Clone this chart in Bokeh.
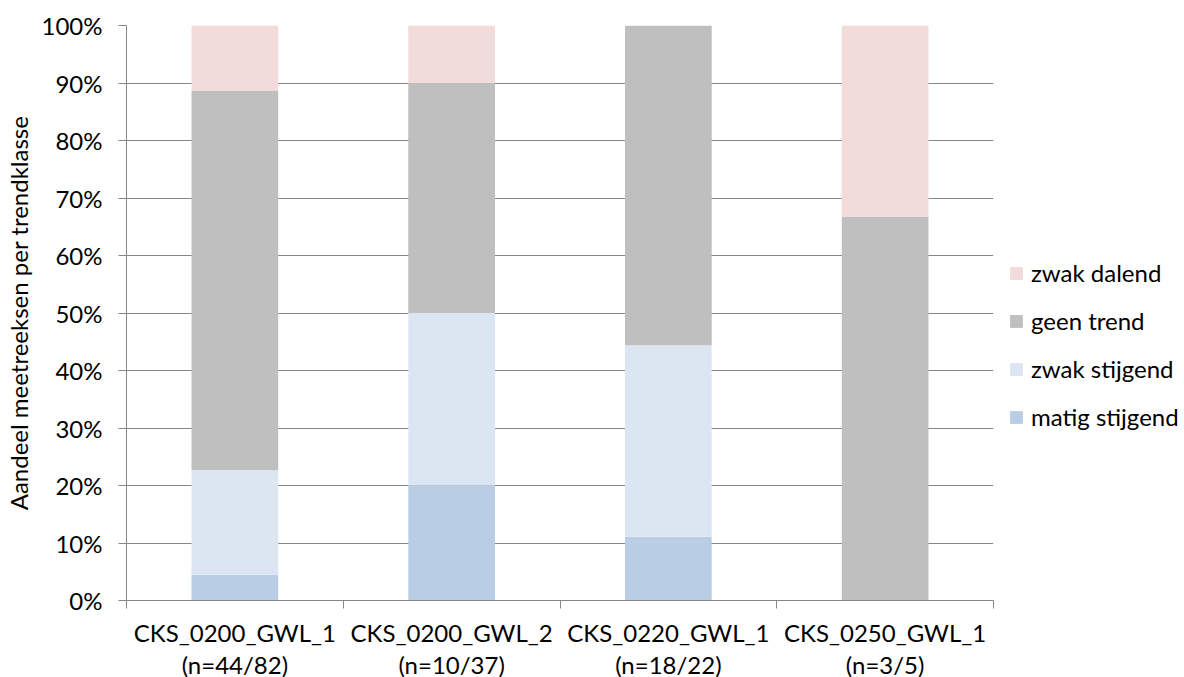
from bokeh.plotting import figure
from bokeh.models import (FixedTicker, NumeralTickFormatter, Legend, LegendItem, Range1d)
from bokeh.embed import file_html
from bokeh.resources import INLINE

# Meetreeksen per grondwaterlichaam, aandeel per trendklasse
categories = ["CKS_0200_GWL_1", "CKS_0200_GWL_2", "CKS_0220_GWL_1", "CKS_0250_GWL_1"]
counts = ["(n=44/82)", "(n=10/37)", "(n=18/22)", "(n=3/5)"]
matig_stijgend = [0.045, 0.20, 0.111, 0.0]
zwak_stijgend = [0.182, 0.30, 0.333, 0.0]
geen_trend = [0.659, 0.40, 0.556, 0.667]
zwak_dalend = [0.114, 0.10, 0.0, 0.333]

classes = ["matig stijgend", "zwak stijgend", "geen trend", "zwak dalend"]
colors = ["#B9CDE5", "#DCE6F2", "#BFBFBF", "#F2DCDB"]

FONT = "Lato"
FS = "24px"
GRID = "#868686"

xpos = [i + 0.5 for i in range(len(categories))]
source = dict(x=xpos, **{c: v for c, v in zip(classes, [matig_stijgend, zwak_stijgend, geen_trend, zwak_dalend])})

p = figure(frame_width=867, frame_height=575, output_backend="svg", toolbar_location=None,
           x_range=Range1d(0, len(categories)), y_range=Range1d(0, 1),
           min_border_left=126, min_border_right=0, min_border_top=25, min_border_bottom=52)
p.outline_line_color = None
p.background_fill_color = "white"
p.border_fill_color = "white"

renderers = p.vbar_stack(classes, x="x", width=0.4, color=colors, line_color=None, source=source)

# x axis: labels at bar centres, tick marks on the category boundaries
xa = p.xaxis[0]
xa.ticker = FixedTicker(ticks=xpos, minor_ticks=list(range(len(categories) + 1)))
xa.major_label_overrides = {x: f"{c}\n{n}" for x, c, n in zip(xpos, categories, counts)}
xa.major_tick_out = 0
xa.major_tick_in = 0
xa.minor_tick_out = 8
xa.minor_tick_in = 0
xa.minor_tick_line_color = GRID
xa.axis_line_color = GRID
xa.major_label_text_font = FONT
xa.major_label_text_font_size = FS
xa.major_label_text_color = "black"
xa.major_label_standoff = 9
xa.major_label_text_line_height = 1.12

ya = p.yaxis[0]
ya.ticker = FixedTicker(ticks=[i / 10 for i in range(11)])
ya.formatter = NumeralTickFormatter(format="0%")
ya.major_tick_out = 8
ya.major_tick_in = 0
ya.minor_tick_out = 0
ya.minor_tick_in = 0
ya.major_tick_line_color = GRID
ya.axis_line_color = GRID
ya.major_label_text_font = FONT
ya.major_label_text_font_size = FS
ya.major_label_text_color = "black"
ya.major_label_standoff = 16
ya.axis_label = "Aandeel meetreeksen per trendklasse"
ya.axis_label_text_font = FONT
ya.axis_label_text_font_size = FS
ya.axis_label_text_font_style = "normal"
ya.axis_label_text_color = "black"
ya.axis_label_standoff = 6

p.xgrid.visible = False
p.ygrid.ticker = ya.ticker
p.ygrid.grid_line_color = GRID
p.ygrid.grid_line_width = 1

# legend sits in the right-hand panel; the blank title pushes the entries down
items = [LegendItem(label=c, renderers=[r]) for c, r in zip(classes, renderers)][::-1]
legend = Legend(items=items, location="top_left", orientation="vertical",
                title=" ", title_text_font_size="1px", title_standoff=217,
                glyph_width=16, glyph_height=16, label_height=20, spacing=19,
                label_standoff=7, padding=0, margin=15,
                border_line_color=None, background_fill_alpha=0,
                label_text_font=FONT, label_text_font_size=FS, label_text_color="black")
p.add_layout(legend, "right")

open("out.html", "w").write(file_html(p, INLINE))
